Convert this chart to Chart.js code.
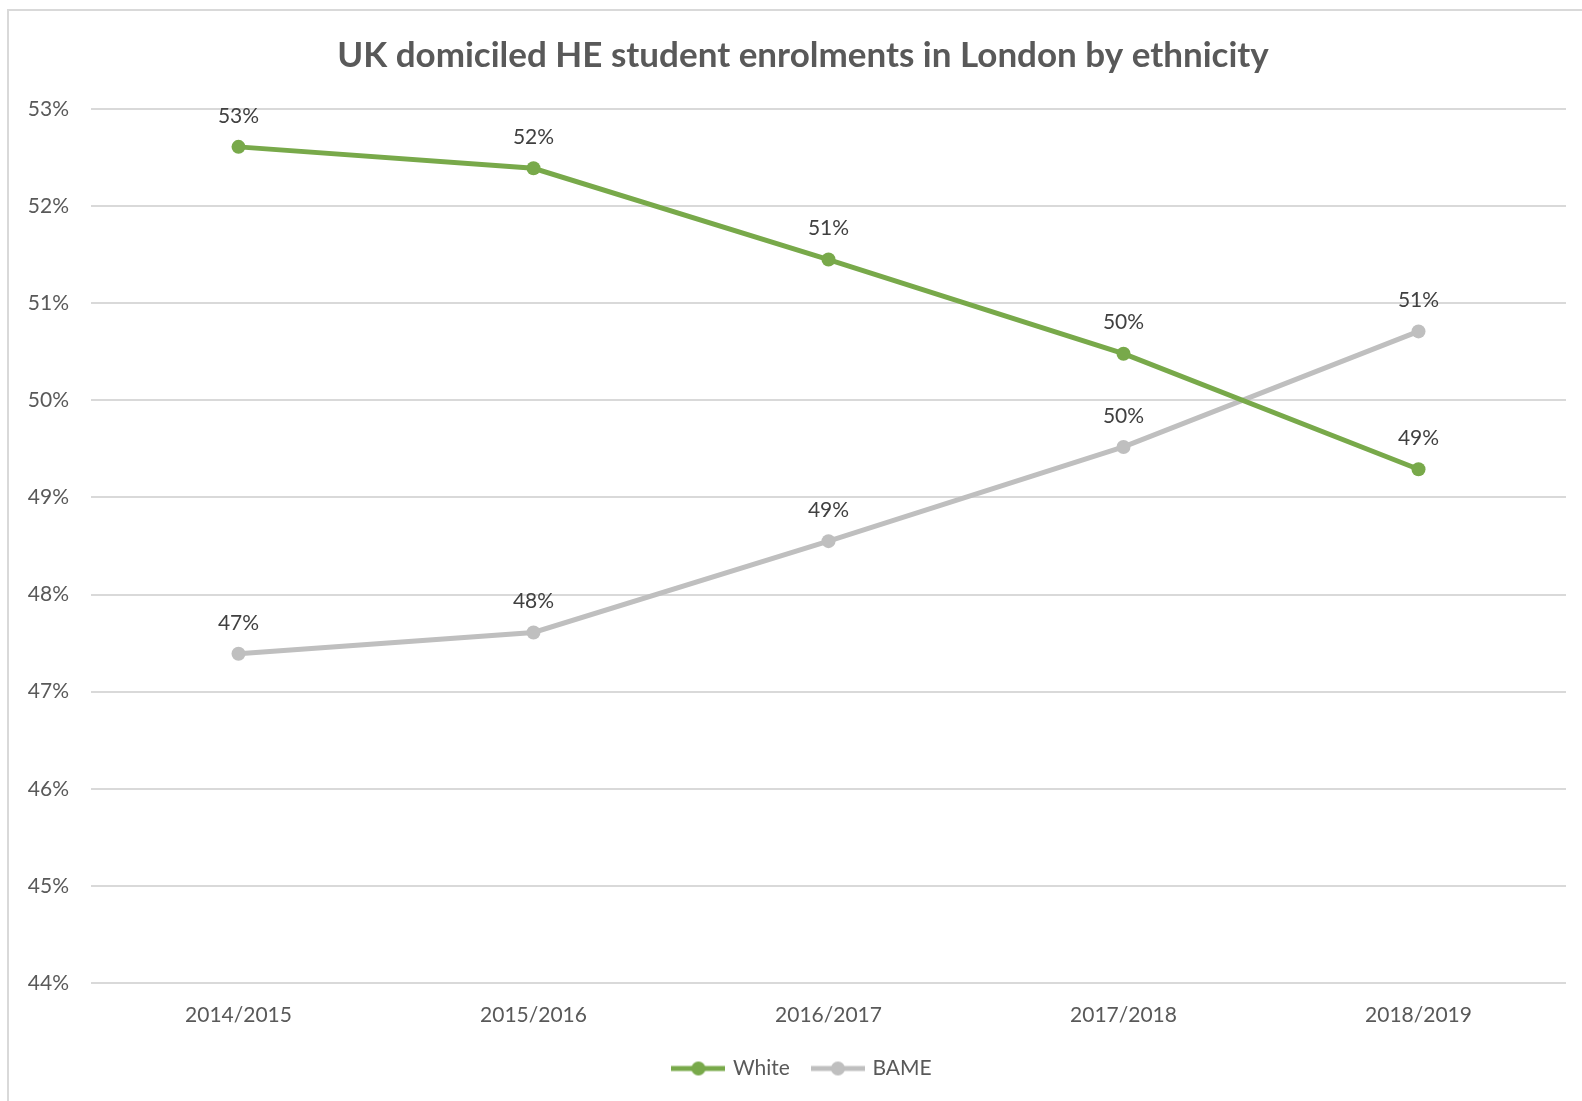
<!DOCTYPE html>
<html>
<head>
<meta charset="utf-8">
<script src="https://cdn.jsdelivr.net/npm/chart.js@4.4.1/dist/chart.umd.min.js"></script>
<style>
  html, body { margin: 0; padding: 0; background: #fff; overflow: hidden; }
  #frame { position: absolute; left: 7px; top: 9px; width: 1700px; height: 1200px; border: 2px solid #d9d9d9; box-sizing: border-box; }
  #wrap { position: absolute; left: 0; top: 0; width: 1582px; height: 1101px; }
</style>
</head>
<body>
<div id="frame"></div>
<div id="wrap"><canvas id="chart" width="1582" height="1101"></canvas></div>
<script>
const years = ['2014/2015', '2015/2016', '2016/2017', '2017/2018', '2018/2019'];
const white = [52.61, 52.39, 51.45, 50.48, 49.29];
const bame = [47.39, 47.61, 48.55, 49.52, 50.71];
const yTicks = [44, 45, 46, 47, 48, 49, 50, 51, 52, 53];

const GREEN = '#78a94a';
const GREY = '#bfbfbf';
const FONT = 'Lato, Carlito, "Open Sans", sans-serif';

// excel style legend marker: line with a dot in the middle
function legendMarker(color) {
  const c = document.createElement('canvas');
  c.width = 54; c.height = 16;
  const g = c.getContext('2d');
  g.strokeStyle = color;
  g.lineWidth = 5;
  g.beginPath(); g.moveTo(0, 8); g.lineTo(54, 8); g.stroke();
  g.fillStyle = color;
  g.beginPath(); g.arc(27, 8, 7, 0, Math.PI * 2); g.fill();
  return c;
}

const valueLabels = {
  id: 'valueLabels',
  afterDatasetsDraw(chart) {
    const ctx = chart.ctx;
    ctx.save();
    ctx.font = '21px ' + FONT;
    ctx.fillStyle = '#404040';
    ctx.textAlign = 'center';
    ctx.textBaseline = 'middle';
    chart.data.datasets.forEach((ds, i) => {
      chart.getDatasetMeta(i).data.forEach((pt, j) => {
        ctx.fillText(Math.round(ds.data[j]) + '%', pt.x, pt.y - 31);
      });
    });
    ctx.restore();
  }
};

// title and legend sit a little right of the canvas centre in the original
const nudge = {
  id: 'nudge',
  afterLayout(chart) {
    [chart.titleBlock, chart.legend].forEach(b => {
      if (b) { b.left += 20; b.right += 20; }
    });
  }
};

new Chart(document.getElementById('chart'), {
  type: 'line',
  data: {
    labels: years,
    datasets: [
      { label: 'White', data: white, borderColor: GREEN, backgroundColor: GREEN, borderWidth: 5, pointRadius: 7, pointBorderWidth: 0, tension: 0 },
      { label: 'BAME', data: bame, borderColor: GREY, backgroundColor: GREY, borderWidth: 5, pointRadius: 7, pointBorderWidth: 0, tension: 0 }
    ]
  },
  options: {
    responsive: false,
    animation: false,
    layout: { padding: { left: 0, right: 16, top: 0, bottom: 12 } },
    plugins: {
      title: {
        display: true,
        text: 'UK domiciled HE student enrolments in London by ethnicity',
        color: '#595959',
        font: { family: FONT, size: 35, weight: 'bold', lineHeight: 1.2 },
        padding: { top: 34.5, bottom: 32.5 }
      },
      legend: {
        position: 'bottom',
        labels: {
          color: '#595959',
          font: { family: FONT, size: 21 },
          usePointStyle: true,
          pointStyleWidth: 48,
          padding: 24,
          generateLabels(chart) {
            return chart.data.datasets.map((ds, i) => ({
              text: ds.label,
              pointStyle: legendMarker(ds.borderColor),
              fillStyle: ds.borderColor,
              strokeStyle: ds.borderColor,
              lineWidth: 0,
              fontColor: '#595959',
              datasetIndex: i
            }));
          }
        }
      },
      tooltip: { enabled: false }
    },
    scales: {
      x: {
        offset: true,
        grid: { display: false, drawTicks: false },
        border: { display: false },
        ticks: { color: '#595959', font: { family: FONT, size: 21 }, padding: 20, maxRotation: 0 },
        afterFit(scale) { scale.height = 51; }
      },
      y: {
        min: 44,
        max: 53,
        afterBuildTicks(scale) { scale.ticks = yTicks.map(v => ({ value: v })); },
        grid: { color: '#d9d9d9', lineWidth: 2, drawTicks: false },
        border: { display: false },
        ticks: { color: '#595959', font: { family: FONT, size: 21 }, padding: 22, callback: v => v + '%' },
        afterFit(scale) { scale.width = 91; }
      }
    }
  },
  plugins: [valueLabels, nudge]
});
</script>
</body>
</html>
